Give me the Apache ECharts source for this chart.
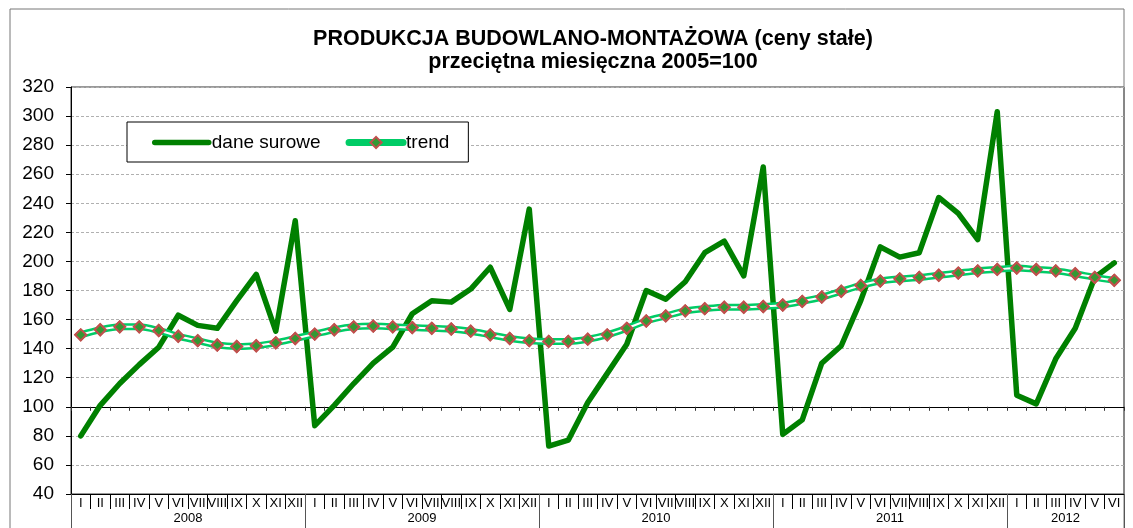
<!DOCTYPE html>
<html>
<head>
<meta charset="utf-8">
<script src="https://cdn.jsdelivr.net/npm/echarts@6/dist/echarts.min.js"></script>
<style>
  html, body { margin: 0; padding: 0; background: #fff; }
  #root { width: 1133px; height: 528px; }
</style>
</head>
<body>
<div id="root"></div>
<script>
const monthNames = ['I', 'II', 'III', 'IV', 'V', 'VI', 'VII', 'VIII', 'IX', 'X', 'XI', 'XII']
const years = ['2008', '2009', '2010', '2011', '2012']
const monthsInLastYear = 6

// dane surowe, by year
const raw2008 = [80, 101, 116, 129, 141, 163, 156, 154, 173, 191, 152, 228]
const raw2009 = [87, 101, 116, 130, 141, 164, 173, 172, 181, 196, 167, 236]
const raw2010 = [73, 77, 103, 123, 143, 180, 174, 186, 206, 214, 190, 265]
const raw2011 = [81, 91, 130, 142, 173, 210, 203, 206, 244, 233, 215, 303]
const raw2012 = [108, 102, 133, 154, 189, 199]

// trend, by year
const trend2008 = [149.5, 153, 155, 155, 152.5, 148.5, 145.5, 142.5, 141.5, 142, 144, 147]
const trend2009 = [150, 153, 155, 155.5, 155, 154.5, 154, 153.5, 152, 149.5, 147, 145.5]
const trend2010 = [145, 145, 146.5, 149.5, 154, 159, 162.5, 166, 167.5, 168.5, 168.5, 169]
const trend2011 = [170, 172.5, 175.5, 179.5, 183.5, 186.5, 188, 189, 190.5, 192, 193.5, 194.5]
const trend2012 = [195.5, 194.5, 193.5, 191.5, 189, 187]

const rawData = [].concat(raw2008, raw2009, raw2010, raw2011, raw2012)
const trendData = [].concat(trend2008, trend2009, trend2010, trend2011, trend2012)

const months = []
years.forEach((y, yi) => {
  const n = yi === years.length - 1 ? monthsInLastYear : 12
  for (let m = 0; m < n; m++) months.push(monthNames[m])
})

// half-month slots for the year row: label in the middle of each year, ticks on year borders
const yearSlots = []
const yearLabelIdx = {}
const yearTickIdx = {}
let slot = 0
years.forEach((y, yi) => {
  const n = yi === years.length - 1 ? monthsInLastYear : 12
  yearTickIdx[slot] = true
  yearLabelIdx[slot + n] = true
  for (let k = 0; k < n * 2; k++) {
    yearSlots.push(k === n ? y : '')
  }
  slot += n * 2
})
yearSlots.push('')
yearTickIdx[slot] = true

const gridTop = 87
const gridBottom = 34
const gridHeight = 528 - gridTop - gridBottom
const yMin = 40
const yMax = 320

const dom = document.getElementById('root')
const myChart = echarts.init(dom)
const option = {
  animation: false,
  textStyle: { fontFamily: 'Liberation Sans, Arial, sans-serif', color: '#000' },
  title: {
    text: 'PRODUKCJA BUDOWLANO-MONTAŻOWA (ceny stałe)\nprzeciętna miesięczna 2005=100',
    left: 588,
    top: 23,
    textAlign: 'center',
    textStyle: {
      fontFamily: 'Liberation Sans, Arial, sans-serif',
      fontSize: 21.5,
      fontWeight: 'bold',
      color: '#000',
      lineHeight: 23
    }
  },
  legend: {
    data: [
      { name: 'dane surowe', itemStyle: { opacity: 0 } },
      { name: 'trend' }
    ],
    left: 127,
    top: 122,
    orient: 'horizontal',
    padding: [11, 19, 10, 25],
    itemGap: 25,
    itemWidth: 54,
    itemHeight: 14,
    borderColor: '#000',
    borderWidth: 1,
    backgroundColor: '#fff',
    lineStyle: { width: 'inherit' },
    textStyle: { fontSize: 19, color: '#000', fontFamily: 'Liberation Sans, Arial, sans-serif', padding: [0, 0, 0, -2] }
  },
  graphic: [
    {
      type: 'rect',
      shape: { x: 10, y: 9, width: 1114, height: 600 },
      style: { fill: 'none', stroke: '#777', lineWidth: 1 },
      silent: true,
      z: 0
    }
  ],
  grid: {
    left: 71,
    right: 9,
    top: gridTop,
    bottom: gridBottom,
    show: true,
    borderColor: '#333',
    borderWidth: 1
  },
  xAxis: [
    {
      type: 'category',
      data: months,
      position: 'bottom',
      boundaryGap: true,
      axisLine: { lineStyle: { color: '#000', width: 1 } },
      axisTick: { show: true, interval: 0, length: 15, lineStyle: { color: '#000' } },
      axisLabel: { interval: 0, fontSize: 13, margin: 3, color: '#000', hideOverlap: false }
    },
    {
      type: 'category',
      data: yearSlots,
      position: 'bottom',
      boundaryGap: false,
      axisLine: { show: false },
      axisTick: {
        show: true,
        length: 34,
        interval: idx => !!yearTickIdx[idx],
        lineStyle: { color: '#555' }
      },
      axisLabel: {
        interval: idx => !!yearLabelIdx[idx],
        fontSize: 13,
        margin: 18,
        color: '#000',
        hideOverlap: false
      },
      splitLine: { show: false }
    },
    {
      // line at 100 with small ticks
      type: 'category',
      data: months,
      position: 'bottom',
      boundaryGap: true,
      offset: -((100 - yMin) / (yMax - yMin)) * gridHeight,
      axisLine: { lineStyle: { color: '#000', width: 1 } },
      axisTick: { show: true, interval: 0, length: 4, lineStyle: { color: '#333' } },
      axisLabel: { show: false },
      splitLine: { show: false }
    }
  ],
  yAxis: {
    type: 'value',
    min: yMin,
    max: yMax,
    interval: 20,
    axisLine: { show: true, lineStyle: { color: '#000', width: 1 } },
    axisTick: { show: true, length: 5, lineStyle: { color: '#000' } },
    axisLabel: { fontSize: 19, margin: 17, color: '#000' },
    splitLine: { show: true, lineStyle: { color: '#b0b0b0', type: [3, 2], width: 1 } }
  },
  series: [
    {
      name: 'dane surowe',
      type: 'line',
      data: rawData,
      symbol: 'none',
      lineStyle: { color: '#008000', width: 5.5, cap: 'round', join: 'round' },
      itemStyle: { color: '#008000' },
      z: 2
    },
    {
      name: 'trend',
      type: 'line',
      data: trendData,
      smooth: 0.3,
      symbol: 'diamond',
      symbolSize: 11,
      lineStyle: { color: '#00cc66', width: 7, cap: 'round' },
      itemStyle: { color: '#339933', borderColor: '#c0504d', borderWidth: 2 },
      z: 3
    },
    {
      name: 'trend-inner',
      type: 'line',
      data: trendData,
      smooth: 0.3,
      symbol: 'none',
      lineStyle: { color: '#ffffff', width: 2 },
      z: 4
    },
    {
      name: 'trend-markers',
      type: 'line',
      data: trendData,
      symbol: 'diamond',
      symbolSize: 11,
      showAllSymbol: true,
      lineStyle: { width: 0, opacity: 0 },
      itemStyle: { color: '#339933', borderColor: '#c0504d', borderWidth: 2 },
      z: 5
    }
  ]
}
if (option && typeof option === 'object') {
  myChart.setOption(option, true)
}
</script>
</body>
</html>
